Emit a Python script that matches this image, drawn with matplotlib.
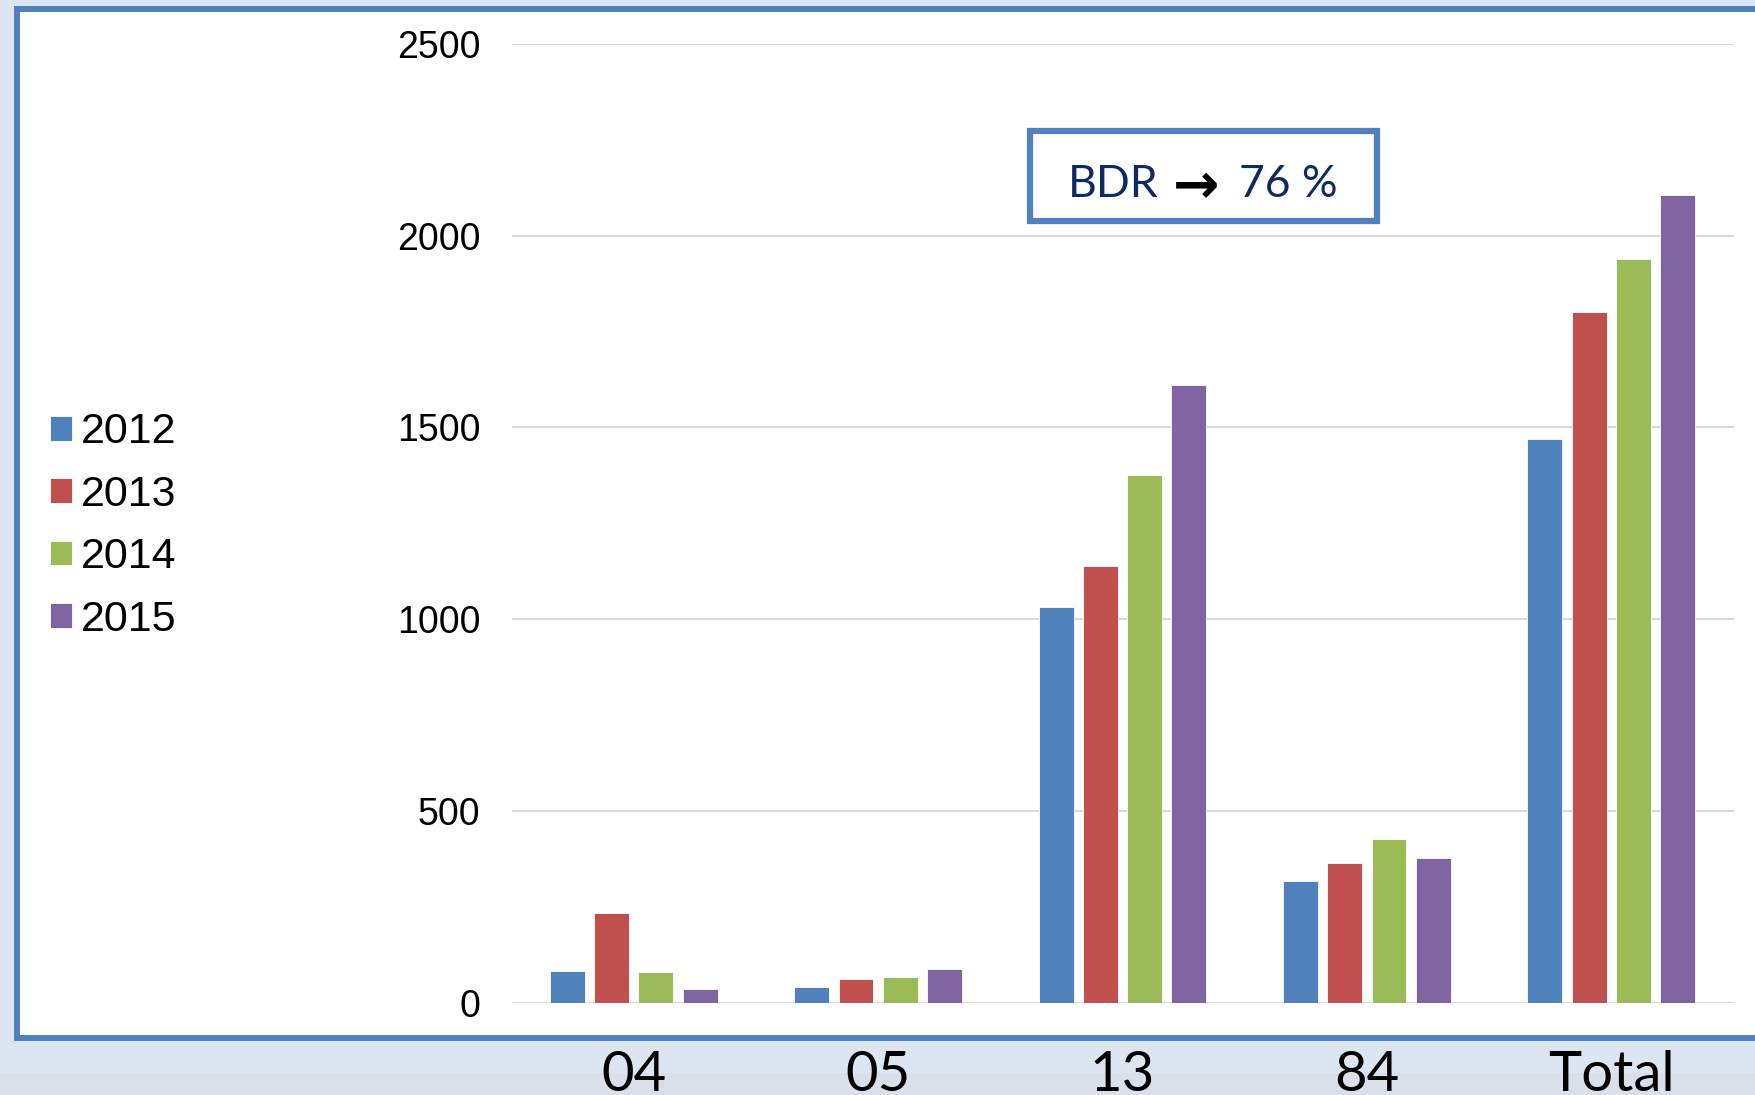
"""
Gráfico de barras agrupadas 2012-2015 por categoría (estilo diapositiva).
"""
import matplotlib.pyplot as plt
import matplotlib.patches as patches
import numpy as np

# Datos
categorias = ['04', '05', '13', '84', 'Total']
anios = ['2012', '2013', '2014', '2015']
valores_2012 = [83, 42, 1031, 318, 1470]
valores_2013 = [235, 63, 1139, 365, 1800]
valores_2014 = [79, 66, 1375, 426, 1940]
valores_2015 = [37, 87, 1612, 377, 2107]
series = [valores_2012, valores_2013, valores_2014, valores_2015]
colores = ['#4F81BD', '#C0504D', '#9BBB59', '#8064A2']

W, H = 1755, 1095
DPI = 100
fig = plt.figure(figsize=(W / DPI, H / DPI), dpi=DPI)
fig.patch.set_facecolor('#DCE6F2')


def px(x, y_top):
    # pixeles (desde arriba) -> fracción de figura
    return x / W, (H - y_top) / H


# Franja inferior con textura del fondo
x0, y0 = px(0, 1095)
fig.add_artist(patches.Rectangle((0, y0), 1, 22 / H, transform=fig.transFigure,
                                 facecolor='#D9E0EA', edgecolor='none', zorder=-3))

# Panel blanco con borde azul
x0, y0 = px(17, 1037.5)
fig.add_artist(patches.Rectangle((x0, y0), 1.0, (1037.5 - 9.3) / H,
                                 transform=fig.transFigure, facecolor='white',
                                 edgecolor='#4F81BD', linewidth=4.3, zorder=-2))

# Ejes
left, bottom = px(511.5, 1002.7)
right, top = px(1733.5, 44)
ax = fig.add_axes([left, bottom, right - left, top - bottom])
ax.set_facecolor('none')

x = np.arange(len(categorias))
ancho = 0.143
paso = 0.181
for i, (vals, anio, c) in enumerate(zip(series, anios, colores)):
    ax.bar(x + (i - 1.5) * paso, vals, width=ancho, color=c, label=anio,
           edgecolor='white', linewidth=0.6, zorder=3)

ax.set_xlim(-0.5, len(categorias) - 0.5)
ax.set_ylim(0, 2500)
ax.set_yticks(np.arange(0, 2501, 500))
ax.yaxis.grid(True, color='#D9D9D9', linewidth=1.5, zorder=0)
ax.set_axisbelow(True)
for s in ax.spines.values():
    s.set_visible(False)

ax.tick_params(axis='y', length=0, pad=22.3, labelsize=27)
for lab in ax.get_yticklabels():
    lab.set_family('Liberation Sans')
ax.set_xticks(x)
ax.set_xticklabels(categorias, family='Lato', fontsize=40.5)
ax.tick_params(axis='x', length=0, pad=34)
ax.axhline(0, color='#D9D9D9', linewidth=2, zorder=1)

# Leyenda
lx, ly = px(50, 526)
fig.legend(loc='center left', bbox_to_anchor=(lx, ly), frameon=False,
           prop={'family': 'Liberation Sans', 'size': 31},
           handlelength=0.51, handleheight=0.51, handletextpad=0.2,
           labelspacing=0.52, borderpad=0, borderaxespad=0)

# Recuadro BDR
bx, by = px(1030.3, 220.7)
fig.add_artist(patches.Rectangle((bx, by), (1376.7 - 1030.3) / W, (220.7 - 131.3) / H,
                                 transform=fig.transFigure, facecolor='white',
                                 edgecolor='#4F81BD', linewidth=4.5, zorder=5))
base_y = (H - 197.3) / H
fig.text(1068 / W, base_y, 'BDR', family='Lato', fontsize=32, color='#0D2B63',
         ha='left', va='baseline', zorder=6)
fig.text(1196 / W, (H - 182) / H, '\u2192', family='DejaVu Sans', fontsize=40,
         fontweight='bold', color='black', ha='center', va='center_baseline',
         zorder=6)
fig.text(1239 / W, base_y, '76 %', family='Lato', fontsize=32, color='#0D2B63',
         ha='left', va='baseline', zorder=6)

plt.savefig('out.png', dpi=DPI)
